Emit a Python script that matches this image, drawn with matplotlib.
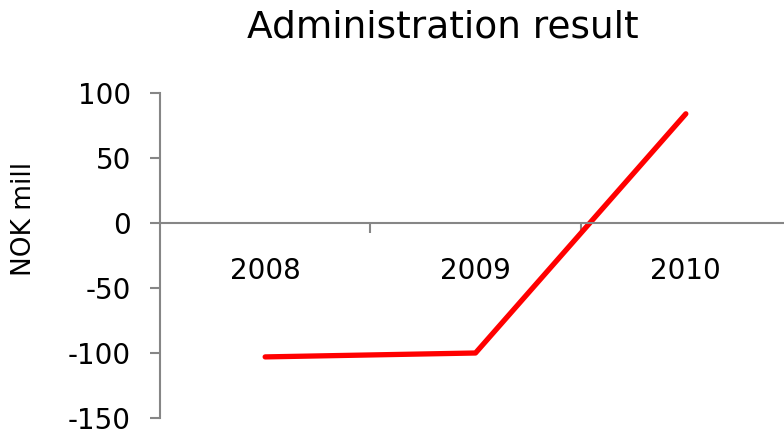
import matplotlib.pyplot as plt

plt.rcParams['font.family'] = 'DejaVu Sans'

years = ['2008', '2009', '2010']
result = [-103, -100, 84]
y_ticks = [-150, -100, -50, 0, 50, 100]

axis_grey = '#868686'

fig = plt.figure(figsize=(7.84, 4.30), dpi=100)
ax = fig.add_axes([160 / 784, 12 / 430, 631 / 784, 325 / 430])

x = list(range(len(years)))
ax.plot(x, result, color='#ff0000', linewidth=3.8, solid_capstyle='round',
        solid_joinstyle='round')

ax.set_xlim(-0.5, len(years) - 0.5)
ax.set_ylim(-150, 100)
ax.set_yticks(y_ticks)
ax.set_yticklabels([str(v) for v in y_ticks], fontsize=20)

# category boundaries as ticks on the zero line
ax.set_xticks([i + 0.5 for i in range(len(years) - 1)])
ax.set_xticklabels([])
ax.spines['bottom'].set_position(('data', 0))
ax.spines['top'].set_visible(False)
ax.spines['right'].set_visible(False)
for s in ['left', 'bottom']:
    ax.spines[s].set_color(axis_grey)
    ax.spines[s].set_linewidth(1.5)
ax.tick_params(axis='y', direction='out', length=7, width=1.5, color=axis_grey, pad=14)
ax.tick_params(axis='x', direction='out', length=7, width=1.5, color=axis_grey)

for i, yr in enumerate(years):
    ax.text(i, -37, yr, ha='center', va='center', fontsize=20)

fig.text(24 / 784, 1 - 219 / 430, 'NOK mill', rotation=90, ha='center',
         va='center', fontsize=19)
fig.text(443 / 784, 1 - 28 / 430, 'Administration result', ha='center',
         va='center', fontsize=27)

fig.savefig('out.png', dpi=100)
